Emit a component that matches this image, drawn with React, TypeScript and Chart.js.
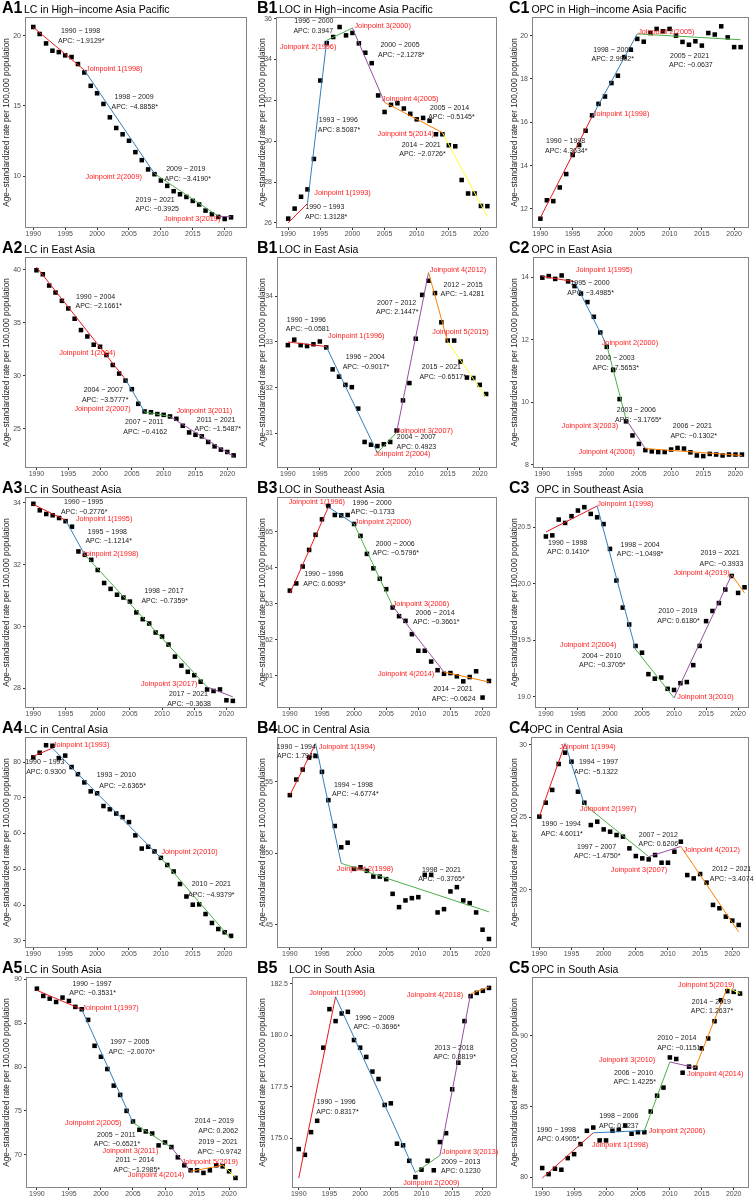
import React, { useEffect, useRef } from "react";
import { Chart, registerables } from "chart.js";

Chart.register(...registerables);

const FONT = '"Liberation Sans", Arial, Helvetica, sans-serif';

// ---------- shared data ----------
const years = [1990, 1991, 1992, 1993, 1994, 1995, 1996, 1997, 1998, 1999, 2000, 2001, 2002, 2003, 2004, 2005, 2006, 2007, 2008, 2009, 2010, 2011, 2012, 2013, 2014, 2015, 2016, 2017, 2018, 2019, 2020, 2021];
const xTickYears = [1990, 1995, 2000, 2005, 2010, 2015, 2020];
const segmentColors = ["#E41A1C", "#377EB8", "#4DAF4A", "#984EA3", "#FF7F00", "#FFFF33"];
const yAxisTitle = "Age−standardized rate per 100,000 population";

type Note = [string, number, number, "j" | "a"];

// ---------- A1 LC High-income Asia Pacific ----------
const a1Values = [20.62, 20.12, 19.45, 18.93, 18.83, 18.6, 18.48, 17.98, 17.38, 16.43, 15.9, 15.14, 14.19, 13.43, 12.98, 12.52, 11.71, 11.14, 10.48, 10.14, 9.69, 9.31, 8.93, 8.71, 8.52, 8.24, 7.98, 7.55, 7.29, 7.1, 6.95, 7.07];
const a1FitYears = [1990, 1998, 2009, 2019, 2021];
const a1FitValues = [20.6, 17.55, 10.18, 7.15, 7.1];
const a1YTicks = [10, 15, 20];
const a1Notes: Note[] = [
  ["1990 − 1998", 1997.4, 20.31, "a"], ["APC: −1.9129*", 1997.5, 19.6, "a"],
  ["Joinpoint 1(1998)", 2002.7, 17.62, "j"],
  ["1998 − 2009", 2005.8, 15.6, "a"], ["APC: −4.8858*", 2005.9, 14.9, "a"],
  ["Joinpoint 2(2009)", 2002.6, 9.95, "j"],
  ["2009 − 2019", 2013.9, 10.48, "a"], ["APC: −3.4190*", 2014.2, 9.79, "a"],
  ["2019 − 2021", 2009.1, 8.33, "a"], ["APC: −0.3925", 2009.4, 7.69, "a"],
  ["Joinpoint 3(2019)", 2014.9, 6.93, "j"],
];

// ---------- B1 LOC High-income Asia Pacific ----------
const b1Values = [26.21, 26.7, 27.28, 27.64, 29.13, 32.97, 34.8, 35.1, 35.59, 35.18, 35.3, 34.79, 34.33, 33.82, 32.24, 31.43, 31.78, 31.86, 31.6, 31.34, 31.07, 31.14, 31.0, 30.34, 30.34, 29.8, 29.75, 28.1, 27.44, 27.44, 26.83, 26.82];
const b1FitYears = [1990, 1993, 1996, 2000, 2005, 2014, 2021];
const b1FitValues = [26.0, 26.95, 34.94, 35.54, 31.9, 30.42, 26.3];
const b1YTicks = [26, 28, 30, 32, 34, 36];
const b1Notes: Note[] = [
  ["1996 − 2000", 1994.0, 35.88, "a"], ["APC: 0.3947", 1993.9, 35.4, "a"],
  ["Joinpoint 3(2000)", 2004.7, 35.66, "j"],
  ["Joinpoint 2(1996)", 1993.1, 34.6, "j"],
  ["2000 − 2005", 2007.4, 34.69, "a"], ["APC: −2.1278*", 2007.6, 34.23, "a"],
  ["Joinpoint 4(2005)", 2009.0, 32.06, "j"],
  ["2005 − 2014", 2015.1, 31.61, "a"], ["APC: −0.5145*", 2015.4, 31.17, "a"],
  ["1993 − 1996", 1997.8, 31.01, "a"], ["APC: 8.5087*", 1997.9, 30.55, "a"],
  ["Joinpoint 5(2014)", 2008.3, 30.35, "j"],
  ["2014 − 2021", 2010.7, 29.81, "a"], ["APC: −2.0726*", 2010.9, 29.37, "a"],
  ["Joinpoint 1(1993)", 1998.45, 27.47, "j"],
  ["1990 − 1993", 1995.7, 26.79, "a"], ["APC: 1.3128*", 1995.9, 26.29, "a"],
];

// ---------- C1 OPC High-income Asia Pacific ----------
const c1Values = [11.55, 12.4, 12.36, 12.99, 13.61, 14.49, 14.95, 15.61, 16.32, 16.85, 17.19, 17.81, 18.15, 19.01, 19.35, 19.85, 19.72, 20.12, 20.31, 20.2, 20.31, 20.0, 19.71, 19.58, 19.74, 19.54, 20.12, 20.05, 20.43, 19.92, 19.47, 19.47];
const c1FitYears = [1990, 1998, 2005, 2021];
const c1FitValues = [11.6, 16.26, 20.08, 19.81];
const c1YTicks = [12, 14, 16, 18, 20];
const c1Notes: Note[] = [
  ["Joinpoint 2(2005)", 2009.5, 20.15, "j"],
  ["1998 − 2005", 2001.2, 19.35, "a"], ["APC: 2.9902*", 2001.2, 18.92, "a"],
  ["2005 − 2021", 2013.1, 19.07, "a"], ["APC: −0.0637", 2013.3, 18.63, "a"],
  ["Joinpoint 1(1998)", 2002.5, 16.37, "j"],
  ["1990 − 1998", 1993.9, 15.14, "a"], ["APC: 4.3634*", 1994.0, 14.69, "a"],
];

// ---------- A2 LC East Asia ----------
const a2Values = [39.94, 39.56, 38.5, 37.84, 37.06, 36.34, 35.37, 34.3, 33.7, 32.92, 32.73, 31.95, 31.01, 30.2, 29.54, 28.73, 27.35, 26.63, 26.56, 26.38, 26.31, 26.16, 25.94, 25.28, 24.65, 24.43, 24.28, 23.75, 23.34, 23.03, 22.81, 22.49];
const a2FitYears = [1990, 2004, 2007, 2011, 2021];
const a2FitValues = [40.25, 29.65, 26.6, 26.15, 22.38];
const a2YTicks = [25, 30, 35, 40];
const a2Notes: Note[] = [
  ["1990 − 2004", 1999.3, 37.43, "a"], ["APC: −2.1661*", 1999.8, 36.56, "a"],
  ["Joinpoint 1(2004)", 1998.0, 32.17, "j"],
  ["2004 − 2007", 2000.5, 28.6, "a"], ["APC: −3.5777*", 2000.8, 27.72, "a"],
  ["Joinpoint 2(2007)", 2000.4, 26.85, "j"],
  ["2007 − 2011", 2006.95, 25.6, "a"], ["APC: −0.4162", 2007.1, 24.69, "a"],
  ["Joinpoint 3(2011)", 2016.4, 26.63, "j"],
  ["2011 − 2021", 2018.25, 25.78, "a"], ["APC: −1.5487*", 2018.5, 24.97, "a"],
];

// ---------- B2 LOC East Asia ----------
const b2Values = [32.93, 33.05, 32.93, 32.91, 32.95, 33.01, 32.88, 32.4, 32.24, 32.06, 32.01, 31.54, 30.81, 30.75, 30.72, 30.76, 30.81, 31.06, 31.72, 32.1, 33.07, 34.03, 34.34, 34.07, 33.43, 33.03, 33.03, 32.57, 32.22, 32.21, 32.06, 31.86];
const b2FitYears = [1990, 1996, 2004, 2007, 2012, 2015, 2021];
const b2FitValues = [33.0, 32.9, 30.57, 31.02, 34.52, 33.0, 31.79];
const b2YTicks = [31, 32, 33, 34];
const b2Notes: Note[] = [
  ["1990 − 1996", 1992.9, 33.48, "a"], ["APC: −0.0581", 1993.1, 33.28, "a"],
  ["Joinpoint 1(1996)", 2000.7, 33.12, "j"],
  ["1996 − 2004", 2002.1, 32.66, "a"], ["APC: −0.9017*", 2002.2, 32.45, "a"],
  ["2007 − 2012", 2007.0, 33.86, "a"], ["APC: 2.1447*", 2007.1, 33.66, "a"],
  ["Joinpoint 4(2012)", 2016.6, 34.57, "j"],
  ["2012 − 2015", 2017.4, 34.24, "a"], ["APC: −1.4281", 2017.3, 34.05, "a"],
  ["Joinpoint 5(2015)", 2017.0, 33.21, "j"],
  ["2015 − 2021", 2014.0, 32.45, "a"], ["APC: −0.6517*", 2014.2, 32.24, "a"],
  ["Joinpoint 3(2007)", 2011.4, 31.05, "j"],
  ["2004 − 2007", 2010.1, 30.91, "a"], ["APC: 0.4923", 2010.1, 30.7, "a"],
  ["Joinpoint 2(2004)", 2007.9, 30.54, "j"],
];

// ---------- C2 OPC East Asia ----------
const c2Values = [13.98, 14.03, 13.94, 14.05, 13.86, 13.71, 13.47, 13.2, 12.73, 12.23, 11.77, 11.03, 10.1, 9.39, 8.94, 8.67, 8.47, 8.43, 8.41, 8.41, 8.49, 8.54, 8.52, 8.4, 8.3, 8.28, 8.35, 8.33, 8.3, 8.33, 8.33, 8.33];
const c2FitYears = [1990, 1995, 2000, 2003, 2006, 2021];
const c2FitValues = [14.02, 13.85, 11.83, 9.45, 8.52, 8.3];
const c2YTicks = [8, 10, 12, 14];
const c2Notes: Note[] = [
  ["Joinpoint 1(1995)", 1999.6, 14.21, "j"],
  ["1995 − 2000", 1997.4, 13.81, "a"], ["APC: −3.4985*", 1997.5, 13.49, "a"],
  ["Joinpoint 2(2000)", 2003.6, 11.9, "j"],
  ["2000 − 2003", 2001.3, 11.4, "a"], ["APC: −7.5653*", 2001.4, 11.08, "a"],
  ["2003 − 2006", 2004.6, 9.74, "a"], ["APC: −3.1765*", 2004.9, 9.42, "a"],
  ["Joinpoint 3(2003)", 1997.4, 9.25, "j"],
  ["2006 − 2021", 2013.3, 9.23, "a"], ["APC: −0.1302*", 2013.5, 8.91, "a"],
  ["Joinpoint 4(2006)", 2000.0, 8.4, "j"],
];

// ---------- A3 LC Southeast Asia ----------
const a3Values = [33.97, 33.76, 33.64, 33.6, 33.51, 33.41, 33.23, 32.43, 32.32, 32.16, 31.83, 31.41, 31.22, 31.03, 30.94, 30.81, 30.46, 30.24, 30.1, 29.81, 29.68, 29.42, 29.03, 28.74, 28.54, 28.43, 28.22, 27.97, 27.92, 27.97, 27.62, 27.6];
const a3FitYears = [1990, 1995, 1998, 2017, 2021];
const a3FitValues = [33.95, 33.44, 32.32, 28.05, 27.73];
const a3YTicks = [28, 30, 32, 34];
const a3Notes: Note[] = [
  ["1990 − 1995", 1997.8, 34.02, "a"], ["APC: −0.2776*", 1997.9, 33.71, "a"],
  ["Joinpoint 1(1995)", 2001.0, 33.48, "j"],
  ["1995 − 1998", 2001.5, 33.06, "a"], ["APC: −1.1214*", 2001.7, 32.75, "a"],
  ["Joinpoint 2(1998)", 2001.95, 32.36, "j"],
  ["1998 − 2017", 2010.3, 31.14, "a"], ["APC: −0.7359*", 2010.4, 30.83, "a"],
  ["Joinpoint 3(2017)", 2011.1, 28.16, "j"],
  ["2017 − 2021", 2014.1, 27.81, "a"], ["APC: −0.3638", 2014.2, 27.49, "a"],
];

// ---------- B3 LOC Southeast Asia ----------
const b3Values = [63.36, 63.56, 64.03, 64.49, 64.91, 65.34, 65.71, 65.46, 65.45, 65.46, 65.21, 64.88, 64.38, 63.98, 63.69, 63.4, 62.89, 62.65, 62.52, 62.15, 61.69, 61.69, 61.39, 61.15, 61.05, 61.07, 60.98, 60.84, 60.96, 61.12, 60.39, 60.85];
const b3FitYears = [1990, 1996, 2000, 2006, 2014, 2021];
const b3FitValues = [63.28, 65.68, 65.21, 62.93, 61.1, 60.82];
const b3YTicks = [61, 62, 63, 64, 65];
const b3Notes: Note[] = [
  ["Joinpoint 1(1996)", 1994.2, 65.81, "j"],
  ["1996 − 2000", 2002.8, 65.79, "a"], ["APC: −0.1733", 2002.9, 65.53, "a"],
  ["Joinpoint 2(2000)", 2004.5, 65.26, "j"],
  ["2000 − 2006", 2006.4, 64.66, "a"], ["APC: −0.5796*", 2006.5, 64.4, "a"],
  ["1990 − 1996", 1995.3, 63.81, "a"], ["APC: 0.6093*", 1995.4, 63.54, "a"],
  ["Joinpoint 3(2006)", 2010.4, 62.99, "j"],
  ["2006 − 2014", 2012.6, 62.74, "a"], ["APC: −0.3661*", 2012.8, 62.48, "a"],
  ["Joinpoint 4(2014)", 2008.1, 61.04, "j"],
  ["2014 − 2021", 2015.4, 60.62, "a"], ["APC: −0.0624", 2015.5, 60.36, "a"],
];

// ---------- C3 OPC Southeast Asia ----------
const c3Values = [20.42, 20.43, 20.57, 20.54, 20.6, 20.65, 20.68, 20.62, 20.59, 20.53, 20.31, 20.03, 19.79, 19.64, 19.45, 19.39, 19.2, 19.16, 19.17, 19.07, 19.06, 19.12, 19.13, 19.28, 19.45, 19.67, 19.76, 19.83, 19.95, 20.07, 19.92, 19.97];
const c3FitYears = [1990, 1998, 2004, 2010, 2019, 2021];
const c3FitValues = [20.46, 20.69, 19.42, 18.99, 20.08, 19.92];
const c3YTicks = [19, 19.5, 20, 20.5];
const c3Notes: Note[] = [
  ["Joinpoint 1(1998)", 2002.4, 20.71, "j"],
  ["1990 − 1998", 1993.4, 20.36, "a"], ["APC: 0.1410*", 1993.5, 20.28, "a"],
  ["1998 − 2004", 2004.7, 20.34, "a"], ["APC: −1.0498*", 2004.7, 20.26, "a"],
  ["2019 − 2021", 2017.2, 20.27, "a"], ["APC: −0.3933", 2017.4, 20.18, "a"],
  ["Joinpoint 4(2019)", 2014.3, 20.1, "j"],
  ["2010 − 2019", 2010.6, 19.76, "a"], ["APC: 0.6180*", 2010.7, 19.67, "a"],
  ["Joinpoint 2(2004)", 1996.6, 19.46, "j"],
  ["2004 − 2010", 1998.7, 19.36, "a"], ["APC: −0.3705*", 1998.8, 19.28, "a"],
  ["Joinpoint 3(2010)", 2014.9, 19.0, "j"],
];

// ---------- A4 LC Central Asia ----------
const a4Values = [81.3, 82.6, 84.7, 84.55, 81.1, 81.8, 78.6, 76.6, 74.3, 71.8, 71.26, 67.7, 66.8, 65.6, 64.6, 63.2, 59.5, 55.8, 56.3, 55.0, 53.2, 51.2, 49.4, 45.9, 42.4, 40.1, 40.2, 37.5, 35.0, 33.3, 32.4, 31.4];
const a4FitYears = [1990, 1993, 2010, 2021];
const a4FitValues = [81.6, 83.9, 53.2, 30.5];
const a4YTicks = [30, 40, 50, 60, 70, 80];
const a4Notes: Note[] = [
  ["Joinpoint 1(1993)", 1997.5, 84.9, "j"],
  ["1990 − 1993", 1991.8, 80.1, "a"], ["APC: 0.9300", 1992.0, 77.1, "a"],
  ["1993 − 2010", 2003.0, 76.4, "a"], ["APC: −2.6365*", 2004.0, 73.4, "a"],
  ["Joinpoint 2(2010)", 2014.5, 54.8, "j"],
  ["2010 − 2021", 2017.9, 45.9, "a"], ["APC: −4.9379*", 2017.9, 42.9, "a"],
];

// ---------- B4 LOC Central Asia ----------
const b4Values = [54.07, 55.16, 55.86, 56.7, 56.81, 55.7, 53.72, 51.91, 50.42, 50.74, 48.91, 49.02, 48.77, 48.37, 48.37, 48.19, 47.16, 46.23, 46.7, 46.86, 46.93, 48.49, 48.49, 45.86, 46.09, 47.33, 47.63, 46.7, 46.51, 45.86, 44.65, 44.0];
const b4FitYears = [1990, 1994, 1998, 2021];
const b4FitValues = [54.07, 57.67, 49.3, 45.9];
const b4YTicks = [45, 50, 55];
const b4Notes: Note[] = [
  ["1990 − 1994", 1991.0, 57.44, "a"], ["APC: 1.7943", 1991.1, 56.79, "a"],
  ["Joinpoint 1(1994)", 1998.9, 57.44, "j"],
  ["1994 − 1998", 1999.9, 54.77, "a"], ["APC: −4.6774*", 2000.2, 54.12, "a"],
  ["Joinpoint 2(1998)", 2001.7, 48.88, "j"],
  ["1998 − 2021", 2013.6, 48.84, "a"], ["APC: −0.3765*", 2013.6, 48.19, "a"],
];

// ---------- C4 OPC Central Asia ----------
const c4Values = [25.06, 26.02, 26.9, 28.69, 29.47, 28.85, 26.78, 26.02, 24.48, 24.71, 24.18, 24.02, 23.79, 23.68, 22.87, 22.34, 22.18, 22.11, 22.41, 21.88, 21.88, 22.64, 23.33, 21.03, 20.8, 21.1, 20.51, 18.97, 18.74, 18.16, 17.89, 17.59];
const c4FitYears = [1990, 1994, 1997, 2007, 2012, 2021];
const c4FitValues = [25.06, 30.1, 25.9, 22.3, 23.0, 17.1];
const c4YTicks = [20, 25, 30];
const c4Notes: Note[] = [
  ["Joinpoint 1(1994)", 1997.5, 29.89, "j"],
  ["1994 − 1997", 1999.2, 28.85, "a"], ["APC: −5.1322", 1998.8, 28.16, "a"],
  ["Joinpoint 2(1997)", 2000.7, 25.56, "j"],
  ["1990 − 1994", 1993.4, 24.55, "a"], ["APC: 4.6011*", 1993.5, 23.86, "a"],
  ["2007 − 2012", 2008.5, 23.79, "a"], ["APC: 0.6206", 2008.5, 23.17, "a"],
  ["1997 − 2007", 1998.9, 22.99, "a"], ["APC: −1.4750*", 1999.0, 22.34, "a"],
  ["Joinpoint 4(2012)", 2016.8, 22.76, "j"],
  ["Joinpoint 3(2007)", 2005.5, 21.38, "j"],
  ["2012 − 2021", 2019.9, 21.43, "a"], ["APC: −3.4074", 2019.9, 20.74, "a"],
];

// ---------- A5 LC South Asia ----------
const a5Values = [88.94, 88.11, 87.8, 87.42, 87.92, 87.54, 86.86, 86.59, 85.38, 82.42, 81.17, 79.77, 77.88, 76.82, 75.0, 73.79, 72.84, 72.65, 72.42, 71.06, 71.4, 70.87, 69.7, 68.79, 68.22, 68.22, 67.92, 68.22, 68.79, 68.67, 68.11, 67.35];
const a5FitYears = [1990, 1997, 2005, 2011, 2014, 2019, 2021];
const a5FitValues = [88.75, 86.58, 73.65, 70.82, 68.1, 68.8, 67.45];
const a5YTicks = [70, 75, 80, 85, 90];
const a5Notes: Note[] = [
  ["1990 − 1997", 1998.6, 89.51, "a"], ["APC: −0.3531*", 1998.7, 88.45, "a"],
  ["Joinpoint 1(1997)", 2001.5, 86.74, "j"],
  ["1997 − 2005", 2004.5, 82.88, "a"], ["APC: −2.0070*", 2004.8, 81.74, "a"],
  ["Joinpoint 2(2005)", 1998.8, 73.67, "j"],
  ["2014 − 2019", 2017.7, 73.79, "a"], ["APC: 0.2062", 2018.3, 72.65, "a"],
  ["2005 − 2011", 2002.4, 72.27, "a"], ["APC: −0.6521*", 2002.5, 71.25, "a"],
  ["2019 − 2021", 2018.3, 71.44, "a"], ["APC: −0.9742", 2018.5, 70.3, "a"],
  ["Joinpoint 3(2011)", 2004.6, 70.38, "j"],
  ["Joinpoint 5(2019)", 2017.0, 69.17, "j"],
  ["2011 − 2014", 2005.3, 69.36, "a"], ["APC: −1.2985*", 2005.6, 68.3, "a"],
  ["Joinpoint 4(2014)", 2008.6, 67.73, "j"],
];

// ---------- B5 LOC South Asia ----------
const b5Values = [174.47, 174.19, 175.29, 175.84, 179.39, 181.26, 180.68, 181.05, 181.13, 179.76, 179.39, 178.94, 178.23, 177.87, 176.61, 176.69, 174.73, 174.65, 173.9, 173.11, 173.47, 173.9, 173.44, 174.81, 175.24, 177.37, 178.66, 180.68, 181.89, 182.05, 182.15, 182.29];
const b5FitYears = [1990, 1996, 2009, 2013, 2018, 2021];
const b5FitValues = [173.06, 181.86, 173.33, 174.16, 182.0, 182.34];
const b5YTicks = [175, 177.5, 180, 182.5];
const b5Notes: Note[] = [
  ["Joinpoint 1(1996)", 1996.3, 182.02, "j"],
  ["1996 − 2009", 2002.4, 180.85, "a"], ["APC: −0.3696*", 2002.7, 180.4, "a"],
  ["Joinpoint 4(2018)", 2012.2, 181.97, "j"],
  ["2013 − 2018", 2015.3, 179.39, "a"], ["APC: 0.8819*", 2015.4, 178.92, "a"],
  ["1990 − 1996", 1996.1, 176.73, "a"], ["APC: 0.8317*", 1996.3, 176.26, "a"],
  ["Joinpoint 3(2013)", 2017.9, 174.32, "j"],
  ["2009 − 2013", 2016.4, 173.84, "a"], ["APC: 0.1230", 2016.4, 173.39, "a"],
  ["Joinpoint 2(2009)", 2011.6, 172.82, "j"],
];

// ---------- C5 OPC South Asia ----------
const c5Values = [80.66, 80.23, 80.61, 80.54, 81.36, 81.64, 82.35, 83.29, 83.52, 82.61, 82.61, 83.29, 83.36, 83.66, 83.08, 83.19, 83.19, 84.65, 85.77, 86.34, 88.47, 88.36, 87.39, 87.82, 87.75, 89.11, 89.81, 91.03, 92.51, 93.15, 93.1, 92.98];
const c5FitYears = [1990, 1998, 2006, 2010, 2014, 2019, 2021];
const c5FitValues = [79.95, 83.15, 83.3, 88.15, 87.74, 93.4, 92.98];
const c5YTicks = [80, 85, 90];
const c5Notes: Note[] = [
  ["Joinpoint 5(2019)", 2015.7, 93.62, "j"],
  ["2014 − 2019", 2016.5, 92.39, "a"], ["APC: 1.2637*", 2016.6, 91.74, "a"],
  ["2010 − 2014", 2011.1, 89.81, "a"], ["APC: −0.1151", 2011.4, 89.11, "a"],
  ["Joinpoint 3(2010)", 2003.3, 88.29, "j"],
  ["2006 − 2010", 2004.3, 87.35, "a"], ["APC: 1.4225*", 2004.5, 86.71, "a"],
  ["Joinpoint 4(2014)", 2017.1, 87.28, "j"],
  ["1998 − 2006", 2002.0, 84.3, "a"], ["APC: 0.0237", 2002.0, 83.64, "a"],
  ["1990 − 1998", 1992.2, 83.36, "a"], ["APC: 0.4905*", 1992.5, 82.7, "a"],
  ["Joinpoint 2(2006)", 2011.1, 83.29, "j"],
  ["Joinpoint 1(1998)", 2002.2, 82.3, "j"],
];

// ---------- layout ----------
const ROW_H = 240;
const BOX_TOP = 17;
const BOX_BOTTOM = 228;
const COL_X = [0, 251, 502];
const COL_W = [251, 251, 252];
const BOX_RIGHT = [249, 497, 749];
const PAD_L = [0, 5, 6];
const TITLE_X = [2, 6, 7];

interface PanelDef {
  tag: string; title: string; col: number; row: number;
  values: number[]; fitYears: number[]; fitValues: number[]; notes: Note[];
  yTicks: number[]; yMin: number; yMax: number; xMin: number; xMax: number;
  dec: number; boxLeft: number; gap: number;
}

const panels: PanelDef[] = [
  { tag: "A1", title: "LC in High−income Asia Pacific", col: 0, row: 0, values: a1Values, fitYears: a1FitYears, fitValues: a1FitValues, notes: a1Notes, yTicks: a1YTicks, yMin: 6.31, yMax: 21.33, xMin: 1988.7, xMax: 2023.5, dec: 0, boxLeft: 25, gap: 1.5 },
  { tag: "B1", title: "LOC in High−income Asia Pacific", col: 1, row: 0, values: b1Values, fitYears: b1FitYears, fitValues: b1FitValues, notes: b1Notes, yTicks: b1YTicks, yMin: 25.75, yMax: 36.08, xMin: 1988.1, xMax: 2022.5, dec: 0, boxLeft: 276, gap: 1.5 },
  { tag: "C1", title: "OPC in High−income Asia Pacific", col: 2, row: 0, values: c1Values, fitYears: c1FitYears, fitValues: c1FitValues, notes: c1Notes, yTicks: c1YTicks, yMin: 11.12, yMax: 20.86, xMin: 1988.7, xMax: 2022.3, dec: 0, boxLeft: 532, gap: 2 },
  { tag: "A2", title: "LC in East Asia", col: 0, row: 1, values: a2Values, fitYears: a2FitYears, fitValues: a2FitValues, notes: a2Notes, yTicks: a2YTicks, yMin: 21.3, yMax: 41.19, xMin: 1988.2, xMax: 2023.1, dec: 0, boxLeft: 25, gap: 1.5 },
  { tag: "B1", title: "LOC in East Asia", col: 1, row: 1, values: b2Values, fitYears: b2FitYears, fitValues: b2FitValues, notes: b2Notes, yTicks: b2YTicks, yMin: 30.24, yMax: 34.86, xMin: 1988.3, xMax: 2022.7, dec: 0, boxLeft: 277, gap: 1.5 },
  { tag: "C2", title: "OPC in East Asia", col: 2, row: 1, values: c2Values, fitYears: c2FitYears, fitValues: c2FitValues, notes: c2Notes, yTicks: c2YTicks, yMin: 7.9, yMax: 14.64, xMin: 1988.55, xMax: 2022.1, dec: 0, boxLeft: 533, gap: 2 },
  { tag: "A3", title: "LC in Southeast Asia", col: 0, row: 2, values: a3Values, fitYears: a3FitYears, fitValues: a3FitValues, notes: a3Notes, yTicks: a3YTicks, yMin: 27.37, yMax: 34.19, xMin: 1988.7, xMax: 2023.2, dec: 0, boxLeft: 25, gap: 1.5 },
  { tag: "B3", title: "LOC in Southeast Asia", col: 1, row: 2, values: b3Values, fitYears: b3FitYears, fitValues: b3FitValues, notes: b3Notes, yTicks: b3YTicks, yMin: 60.1, yMax: 65.96, xMin: 1988.0, xMax: 2022.25, dec: 0, boxLeft: 277, gap: 1.5 },
  { tag: "C3", title: "OPC in Southeast Asia", col: 2, row: 2, values: c3Values, fitYears: c3FitYears, fitValues: c3FitValues, notes: c3Notes, yTicks: c3YTicks, yMin: 18.9, yMax: 20.77, xMin: 1988.3, xMax: 2021.7, dec: 1, boxLeft: 535, gap: 7 },
  { tag: "A4", title: "LC in Central Asia", col: 0, row: 3, values: a4Values, fitYears: a4FitYears, fitValues: a4FitValues, notes: a4Notes, yTicks: a4YTicks, yMin: 28.0, yMax: 87.0, xMin: 1988.7, xMax: 2023.5, dec: 0, boxLeft: 25, gap: 1.5 },
  { tag: "B4", title: "LOC in Central Asia", col: 1, row: 3, values: b4Values, fitYears: b4FitYears, fitValues: b4FitValues, notes: b4Notes, yTicks: b4YTicks, yMin: 43.37, yMax: 58.14, xMin: 1988.0, xMax: 2022.25, dec: 0, boxLeft: 277, gap: 0 },
  { tag: "C4", title: "OPC in Central Asia", col: 2, row: 3, values: c4Values, fitYears: c4FitYears, fitValues: c4FitValues, notes: c4Notes, yTicks: c4YTicks, yMin: 16.0, yMax: 30.55, xMin: 1988.7, xMax: 2022.6, dec: 0, boxLeft: 531, gap: 0 },
  { tag: "A5", title: "LC in South Asia", col: 0, row: 4, values: a5Values, fitYears: a5FitYears, fitValues: a5FitValues, notes: a5Notes, yTicks: a5YTicks, yMin: 66.2, yMax: 90.27, xMin: 1988.3, xMax: 2022.8, dec: 0, boxLeft: 26, gap: 1.5 },
  { tag: "B5", title: "LOC in South Asia", col: 1, row: 4, values: b5Values, fitYears: b5FitYears, fitValues: b5FitValues, notes: b5Notes, yTicks: b5YTicks, yMin: 172.58, yMax: 182.82, xMin: 1988.9, xMax: 2022.3, dec: 1, boxLeft: 292, gap: 11.5 },
  { tag: "C5", title: "OPC in South Asia", col: 2, row: 4, values: c5Values, fitYears: c5FitYears, fitValues: c5FitValues, notes: c5Notes, yTicks: c5YTicks, yMin: 79.25, yMax: 94.15, xMin: 1988.4, xMax: 2022.4, dec: 0, boxLeft: 532, gap: 2 },
];

function makeFramePlugin(p: PanelDef) {
  return {
    id: "frameAndNotes",
    afterDraw(chart: any) {
      const { ctx, chartArea: a, scales } = chart;
      ctx.save();
      ctx.strokeStyle = "#858585";
      ctx.lineWidth = 1;
      ctx.strokeRect(Math.round(a.left) + 0.5, Math.round(a.top) + 0.5, Math.round(a.right - a.left) - 1, Math.round(a.bottom - a.top) - 1);
      ctx.textAlign = "center";
      ctx.textBaseline = "middle";
      for (const [text, x, y, kind] of p.notes) {
        const px = scales.x.getPixelForValue(x);
        const py = scales.y.getPixelForValue(y);
        if (kind === "j") {
          ctx.fillStyle = "#FF1A1A";
          ctx.font = `7.3px ${FONT}`;
        } else {
          ctx.fillStyle = "#1A1A1A";
          ctx.font = `7px ${FONT}`;
        }
        ctx.fillText(text, px, py);
      }
      ctx.restore();
    },
  };
}

function Panel({ p }: { p: PanelDef }) {
  const ref = useRef<HTMLCanvasElement | null>(null);
  const left = COL_X[p.col];
  const top = p.row * ROW_H;
  const width = COL_W[p.col];

  useEffect(() => {
    const canvas = ref.current;
    if (!canvas) return;
    const yWidth = p.boxLeft - left - PAD_L[p.col];
    const chart = new Chart(canvas, {
      type: "scatter",
      data: {
        datasets: [
          {
            type: "line",
            data: p.fitYears.map((x, i) => ({ x, y: p.fitValues[i] })),
            borderColor: segmentColors[0],
            borderWidth: 1,
            pointRadius: 0,
            fill: false,
            tension: 0,
            order: 0,
            segment: { borderColor: (ctx: any) => segmentColors[ctx.p0DataIndex % segmentColors.length] },
          } as any,
          {
            type: "scatter",
            data: years.map((x, i) => ({ x, y: p.values[i] })),
            pointStyle: "rect",
            pointRadius: 3.2,
            pointBackgroundColor: "#000",
            pointBorderWidth: 0,
            backgroundColor: "#000",
            borderWidth: 0,
            order: 1,
          } as any,
        ],
      },
      options: {
        responsive: false,
        animation: false,
        devicePixelRatio: 1,
        events: [],
        layout: { padding: { left: PAD_L[p.col], right: left + width - BOX_RIGHT[p.col], top: BOX_TOP, bottom: 0 } },
        plugins: { legend: { display: false }, tooltip: { enabled: false }, title: { display: false } },
        scales: {
          x: {
            type: "linear",
            min: p.xMin,
            max: p.xMax,
            afterBuildTicks: (s: any) => { s.ticks = xTickYears.map((v) => ({ value: v })); },
            afterFit: (s: any) => { s.height = ROW_H - BOX_BOTTOM; },
            grid: { drawOnChartArea: false, drawTicks: true, tickLength: 2, color: "#333333" },
            border: { display: false },
            ticks: { font: { size: 7, family: FONT }, color: "#4D4D4D", padding: 0, maxRotation: 0, autoSkip: false, callback: (v: any) => String(v) },
          },
          y: {
            type: "linear",
            min: p.yMin,
            max: p.yMax,
            afterBuildTicks: (s: any) => { s.ticks = p.yTicks.map((v) => ({ value: v })); },
            afterFit: (s: any) => { s.width = yWidth; },
            grid: { drawOnChartArea: false, drawTicks: true, tickLength: 2, color: "#333333" },
            border: { display: false },
            ticks: { font: { size: 7, family: FONT }, color: "#4D4D4D", padding: 2, autoSkip: false, callback: (v: any) => Number(v).toFixed(p.dec) },
            title: { display: true, text: yAxisTitle, font: { size: 8.2, family: FONT }, color: "#1A1A1A", padding: { top: 2, bottom: 0 } },
          },
        },
      } as any,
      plugins: [makeFramePlugin(p)],
    });
    return () => chart.destroy();
  }, [p]);

  return (
    <>
      <canvas ref={ref} width={width} height={ROW_H} style={{ position: "absolute", left, top, width, height: ROW_H, display: "block" }} />
      <div style={{ position: "absolute", left: left + TITLE_X[p.col], top, display: "flex", alignItems: "baseline", whiteSpace: "nowrap", lineHeight: "16px", fontFamily: FONT, color: "#000" }}>
        <span style={{ fontWeight: 700, fontSize: 16 }}>{p.tag}</span>
        <span style={{ fontSize: 10.5, marginLeft: p.gap }}>{p.title}</span>
      </div>
    </>
  );
}

export default function App() {
  return (
    <div style={{ position: "absolute", left: 0, top: 0, width: 754, height: 1200, background: "#fff", overflow: "hidden" }}>
      {panels.map((p, i) => (
        <Panel key={i} p={p} />
      ))}
    </div>
  );
}
